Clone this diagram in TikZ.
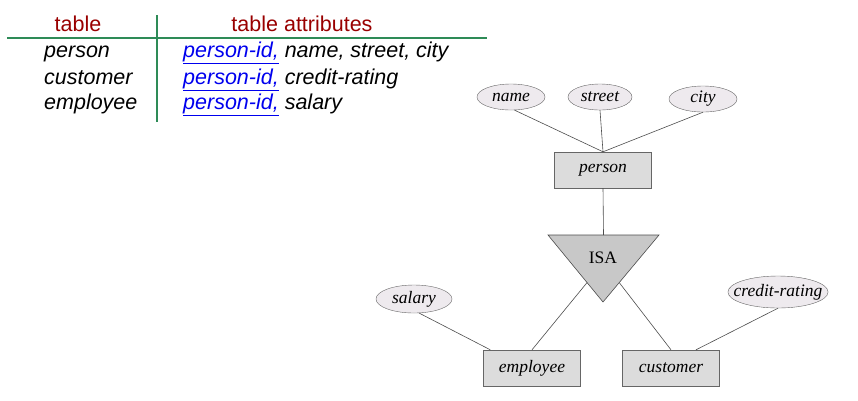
\documentclass[tikz,border=0pt]{standalone}
\usepackage{fontspec}
\usepackage{xcolor}
\newfontfamily\tabfont{Liberation Sans}
\newfontfamily\erfont{Liberation Serif}
\usetikzlibrary{positioning,shapes.geometric,calc}
\definecolor{headred}{HTML}{990000}
\definecolor{rulegreen}{HTML}{2E8B57}
\definecolor{linkblue}{HTML}{0000EE}
\definecolor{entfill}{HTML}{DCDCDC}
\definecolor{attrfill}{HTML}{EEEAEE}
\definecolor{isafill}{HTML}{C8C8C8}
\newcommand{\pid}{\textcolor{linkblue}{\underline{person-id,}}}

\begin{document}
\begin{tikzpicture}[x=1pt,y=-1pt,
  head/.style={font=\tabfont\fontsize{21.5}{26}\selectfont,text=headred,anchor=base},
  row/.style={font=\tabfont\itshape\fontsize{21.5}{26}\selectfont,anchor=base west,inner sep=0pt},
  rule/.style={rulegreen,line width=2pt},
  entity/.style={rectangle,draw=black!60,fill=entfill,minimum width=97pt,
    minimum height=36pt,font=\erfont\itshape\fontsize{17.5}{20}\selectfont},
  attr/.style={ellipse,draw=black!60,fill=attrfill,minimum height=26pt,inner sep=0pt,
    font=\erfont\itshape\fontsize{17.5}{20}\selectfont},
  er line/.style={black!70,line width=0.6pt}]
\useasboundingbox (0,0) rectangle (858,400);

% the table
\node[head] (thead) at (78,31) {table};
\node[head] (ahead) at (302,31) {table attributes};
\draw[rule] (7,38) -- (487,38);
\draw[rule] (157,15) -- (157,122);

\node[row] (tperson) at (44,57) {person};
\node[row] (tcustomer) at (44,84) {customer};
\node[row] (temployee) at (44,109) {employee};
\node[row] (aperson) at (183,57) {\pid{} name, street, city};
\node[row] (acustomer) at (183,84) {\pid{} credit-rating};
\node[row] (aemployee) at (183,109) {\pid{} salary};

% the E-R diagram
\node[entity] (person) at (603,170) {person};
\node[attr,minimum width=68pt] (name) at (511,97) {name};
\node[attr,minimum width=64pt] (street) at (600,97) {street};
\node[attr,minimum width=68pt] (city) at (703,99) {city};

\coordinate (isaW) at (548,235);
\coordinate (isaE) at (659,235);
\coordinate (isaS) at (603,302);
\coordinate (isaN) at ($(isaW)!0.5!(isaE)$);
\draw[er line,fill=isafill] (isaW) -- (isaE) -- (isaS) -- cycle;
\node[font=\erfont\fontsize{17.5}{20}\selectfont] (isa) at (603,258) {ISA};

\node[entity] (employee) at (532,368) {employee};
\node[entity] (customer) at (671,368) {customer};
\node[attr,minimum width=76pt,minimum height=28pt] (salary) at (414,299) {salary};
\node[attr,inner xsep=-9pt,minimum width=100pt,minimum height=32pt] (credit) at (778,292) {credit-rating};

\draw[er line] (name.-75) -- (person.north);
\draw[er line] (street.south) -- (person.north);
\draw[er line] (city.south) -- (person.north);
\draw[er line] (person.south) -- (isaN);
\draw[er line] ($(isaW)!0.71!(isaS)$) -- (employee.north);
\draw[er line] ($(isaE)!0.71!(isaS)$) -- (customer.north);
\draw[er line] (salary.-70) -- ([xshift=7pt]employee.north west);
\draw[er line] (credit.south) -- ([xshift=25pt]customer.north);
\end{tikzpicture}
\end{document}
